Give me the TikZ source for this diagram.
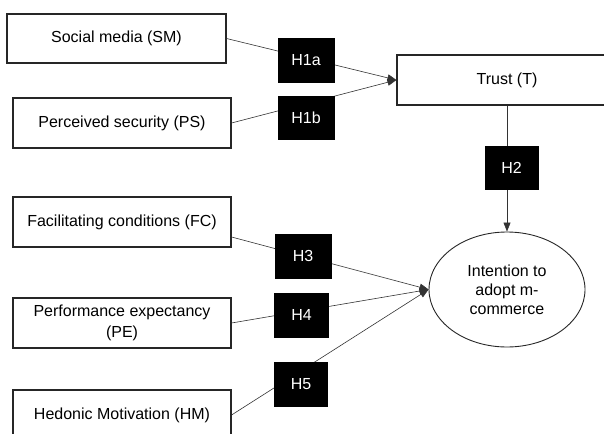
\documentclass[tikz,border=0pt]{standalone}
\usepackage{fontspec}
\setmainfont{Liberation Sans}
\usetikzlibrary{arrows.meta,shapes.geometric}
\begin{document}
\begin{tikzpicture}[x=1pt,y=-1pt,
  varbox/.style={draw=black!85, line width=1.1pt, fill=white, inner sep=0pt, align=center, font=\fontsize{16}{20.5}\selectfont},
  hbox/.style={draw=black, fill=black, text=white, inner sep=0pt, font=\fontsize{16}{18}\selectfont},
  conn/.style={draw=black!80, line width=0.6pt},
  arr/.style={conn, -{Triangle[length=9pt,width=7pt]}}]
\useasboundingbox (0,0) rectangle (604,433);
% variables
\node[varbox, minimum width=219pt, minimum height=49pt] (SM) at (116.5,38.5) {Social media (SM)};
\node[varbox, minimum width=218pt, minimum height=50pt] (PS) at (122,123) {Perceived security (PS)};
\node[varbox, minimum width=220pt, minimum height=50pt] (T) at (507,80) {Trust (T)};
\node[varbox, minimum width=218pt, minimum height=50pt] (FC) at (122,222) {Facilitating conditions (FC)};
\node[varbox, minimum width=218pt, minimum height=50pt] (PE) at (122,323) {Performance expectancy\\(PE)};
\node[varbox, minimum width=218pt, minimum height=50pt] (HM) at (122,415) {Hedonic Motivation (HM)};
\node[varbox, ellipse, line width=0.9pt, minimum width=156pt, minimum height=115pt, font=\fontsize{16}{19}\selectfont] (IA) at (507,289.5) {Intention to\\adopt m-\\commerce};
% connectors
\draw[arr] (SM.east) -- (T.west);
\draw[arr] (PS.east) -- (T.west);
\draw[arr] (T.south) -- (IA.north);
\draw[arr] ([yshift=-15pt]FC.east) -- (IA.west);
\draw[arr] (PE.east) -- (IA.west);
\draw[arr] (HM.east) -- (IA.west);
% hypothesis labels
\node[hbox, minimum width=56pt, minimum height=44pt] (H1a) at (306,60) {H1a};
\node[hbox, minimum width=56pt, minimum height=43pt] (H1b) at (306,117.5) {H1b};
\node[hbox, minimum width=53pt, minimum height=43pt] (H2) at (511.5,167.5) {H2};
\node[hbox, minimum width=56pt, minimum height=44pt] (H3) at (303,256) {H3};
\node[hbox, minimum width=54pt, minimum height=44pt] (H4) at (301.5,315) {H4};
\node[hbox, minimum width=53pt, minimum height=44pt] (H5) at (301,384) {H5};
\end{tikzpicture}
\end{document}
